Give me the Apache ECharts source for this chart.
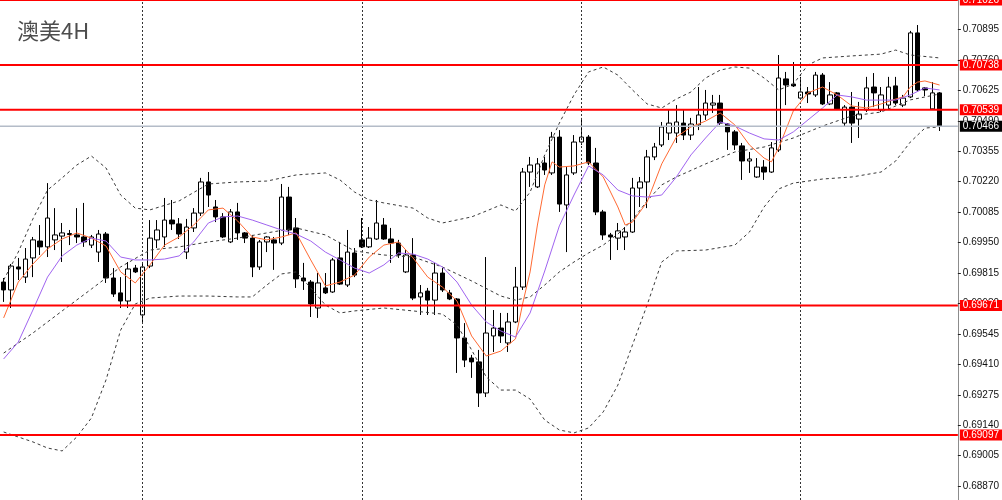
<!DOCTYPE html>
<html>
<head>
<meta charset="utf-8">
<script src="https://cdn.jsdelivr.net/npm/echarts@6/dist/echarts.min.js"></script>
<style>html,body{margin:0;padding:0;background:#fff}#c{width:1002px;height:500px}</style>
</head>
<body>
<div id="c"></div>
<script>
const chartTitle = '澳美4H';
const slotCount = 131;
const yMin = 0.688084;
const yMax = 0.71026;
const yTicks = [0.68870,0.69005,0.69140,0.69275,0.69410,0.69545,0.69680,0.69815,0.69950,0.70085,0.70220,0.70355,0.70490,0.70625,0.70760,0.70895];
const redLevels = [0.71026,0.70738,0.70539,0.69671,0.69097];
const lastPrice = 0.70466;
const separators = ['19','49','79','109'];

const opens = [0.69775,0.69740,0.69842,0.69797,0.69882,0.69957,0.69931,0.69962,0.69979,0.69990,0.69984,0.69975,0.69939,0.69908,0.69988,0.69793,0.69727,0.69691,0.69837,0.69629,
0.69846,0.69962,0.69975,0.70050,0.70033,0.69908,0.70015,0.70081,0.70219,0.70108,0.70064,0.69953,0.70086,0.69993,0.69970,0.69842,0.69953,0.69962,0.69948,0.70152,
0.70015,0.69793,0.69775,0.69660,0.69749,0.69731,0.69882,0.69762,0.69904,0.69962,0.69931,0.69966,0.70028,0.69966,0.69948,0.69820,0.69895,0.69709,0.69735,0.69695,
0.69815,0.69727,0.69700,0.69527,0.69438,0.69421,0.69283,0.69536,0.69571,0.69505,0.69598,0.69753,0.70263,0.70197,0.70303,0.70259,0.70418,0.70117,0.70259,0.70396,
0.70418,0.70303,0.70086,0.69984,0.69970,0.69975,0.69997,0.70192,0.70219,0.70330,0.70383,0.70436,0.70436,0.70480,0.70427,0.70472,0.70516,0.70560,0.70569,0.70476,
0.70441,0.70379,0.70312,0.70241,0.70285,0.70263,0.70361,0.70676,0.70653,0.70591,0.70618,0.70605,0.70693,0.70565,0.70614,0.70480,0.70551,0.70498,0.70538,0.70640,
0.70538,0.70560,0.70645,0.70560,0.70596,0.70880,0.70636,0.70543,0.70614];
const closes = [0.69740,0.69846,0.69833,0.69877,0.69962,0.69931,0.70059,0.69984,0.69993,0.69986,0.69975,0.69953,0.69975,0.69988,0.69793,0.69722,0.69691,0.69833,0.69820,0.69842,
0.69970,0.70006,0.70050,0.70033,0.69988,0.70019,0.70081,0.70219,0.70161,0.70064,0.69975,0.70086,0.69993,0.69970,0.69842,0.69953,0.69975,0.69948,0.70152,0.70006,
0.69789,0.69780,0.69678,0.69771,0.69727,0.69873,0.69766,0.69908,0.69806,0.69931,0.69970,0.70037,0.69966,0.69948,0.69895,0.69895,0.69704,0.69727,0.69695,0.69815,
0.69740,0.69700,0.69527,0.69429,0.69421,0.69283,0.69549,0.69571,0.69536,0.69598,0.69753,0.70263,0.70294,0.70299,0.70272,0.70418,0.70121,0.70250,0.70396,0.70418,
0.70303,0.70086,0.69984,0.69975,0.70002,0.69997,0.70192,0.70219,0.70330,0.70374,0.70463,0.70480,0.70485,0.70427,0.70476,0.70516,0.70569,0.70569,0.70480,0.70441,
0.70383,0.70312,0.70321,0.70285,0.70263,0.70370,0.70680,0.70649,0.70645,0.70618,0.70609,0.70693,0.70565,0.70605,0.70543,0.70551,0.70480,0.70520,0.70636,0.70614,
0.70605,0.70640,0.70569,0.70591,0.70880,0.70627,0.70627,0.70614,0.70466];
const lows = [0.69687,0.69660,0.69784,0.69771,0.69797,0.69895,0.69886,0.69917,0.69864,0.69939,0.69948,0.69931,0.69926,0.69864,0.69771,0.69709,0.69660,0.69660,0.69815,0.69598,
0.69837,0.69926,0.69931,0.70006,0.69966,0.69877,0.69997,0.70068,0.70108,0.70041,0.69970,0.69948,0.69962,0.69948,0.69797,0.69829,0.69908,0.69829,0.69939,0.69984,
0.69749,0.69740,0.69620,0.69616,0.69722,0.69727,0.69762,0.69753,0.69797,0.69926,0.69926,0.69962,0.69962,0.69860,0.69882,0.69815,0.69695,0.69629,0.69629,0.69629,
0.69731,0.69695,0.69372,0.69398,0.69350,0.69221,0.69265,0.69465,0.69505,0.69465,0.69593,0.69740,0.70197,0.70192,0.70250,0.70250,0.70086,0.69908,0.70250,0.70383,
0.70294,0.70072,0.69962,0.69873,0.69917,0.69917,0.69993,0.70108,0.70103,0.70316,0.70374,0.70405,0.70392,0.70405,0.70405,0.70449,0.70494,0.70525,0.70472,0.70361,
0.70361,0.70228,0.70259,0.70237,0.70228,0.70259,0.70352,0.70560,0.70640,0.70583,0.70569,0.70596,0.70560,0.70560,0.70538,0.70463,0.70392,0.70414,0.70529,0.70551,
0.70529,0.70538,0.70560,0.70551,0.70591,0.70618,0.70600,0.70538,0.70445];
const highs = [0.69793,0.69855,0.69882,0.69926,0.69975,0.70028,0.70214,0.70103,0.70037,0.70006,0.70103,0.70126,0.69984,0.70006,0.69997,0.69837,0.69797,0.69864,0.69851,0.69864,
0.70050,0.70050,0.70148,0.70139,0.70059,0.70055,0.70103,0.70237,0.70263,0.70139,0.70081,0.70099,0.70126,0.69997,0.69984,0.69962,0.69979,0.69975,0.70210,0.70197,
0.70059,0.69860,0.69784,0.69815,0.69815,0.69882,0.69953,0.70006,0.69926,0.70059,0.70019,0.70139,0.70059,0.70015,0.69962,0.69917,0.69970,0.69762,0.69749,0.69860,
0.69837,0.69740,0.69704,0.69593,0.69452,0.69474,0.69886,0.69651,0.69638,0.69638,0.69842,0.70281,0.70330,0.70325,0.70330,0.70441,0.70449,0.70285,0.70427,0.70503,
0.70427,0.70370,0.70095,0.69993,0.70037,0.70019,0.70237,0.70241,0.70361,0.70392,0.70485,0.70538,0.70560,0.70538,0.70503,0.70640,0.70627,0.70605,0.70605,0.70480,
0.70449,0.70392,0.70352,0.70325,0.70316,0.70396,0.70782,0.70707,0.70751,0.70685,0.70640,0.70707,0.70702,0.70662,0.70618,0.70560,0.70618,0.70574,0.70685,0.70702,
0.70640,0.70685,0.70685,0.70605,0.70889,0.70915,0.70640,0.70662,0.70618];

const upperBand = [[0,0.69784],[2,0.69908],[4,0.70055],[6,0.70183],[8,0.70237],[10,0.70294],[12,0.70334],[14,0.70281],[16,0.70161],[18,0.70103],[20,0.70095],[24,0.70135],[28,0.70210],[32,0.70219],[36,0.70223],[40,0.70250],[44,0.70259],[46,0.70228],[48,0.70174],[50,0.70139],[52,0.70126],[56,0.70103],[58,0.70059],[60,0.70037],[64,0.70064],[66,0.70090],[68,0.70117],[70,0.70090],[72,0.70174],[74,0.70339],[76,0.70480],[78,0.70605],[80,0.70707],[82,0.70729],[84,0.70693],[86,0.70627],[88,0.70565],[90,0.70547],[92,0.70587],[94,0.70618],[96,0.70680],[98,0.70715],[100,0.70729],[102,0.70724],[104,0.70680],[106,0.70627],[108,0.70653],[110,0.70738],[112,0.70769],[116,0.70778],[120,0.70786],[122,0.70804],[124,0.70782],[128,0.70769]];
const middleBand = [[0,0.69460],[4,0.69549],[8,0.69647],[12,0.69744],[16,0.69842],[20,0.69917],[24,0.69931],[28,0.69953],[32,0.69970],[36,0.69993],[40,0.70015],[44,0.69984],[48,0.69913],[52,0.69895],[56,0.69886],[60,0.69842],[64,0.69780],[68,0.69713],[70,0.69695],[72,0.69709],[74,0.69762],[76,0.69820],[78,0.69864],[80,0.69904],[82,0.69939],[84,0.69988],[86,0.70050],[88,0.70135],[90,0.70206],[92,0.70241],[96,0.70299],[100,0.70352],[104,0.70374],[108,0.70414],[112,0.70467],[116,0.70512],[120,0.70529],[124,0.70583],[128,0.70609]];
const lowerBand = [[0,0.69110],[4,0.69066],[6,0.69039],[8,0.69026],[10,0.69088],[12,0.69172],[14,0.69341],[16,0.69562],[18,0.69678],[20,0.69704],[24,0.69713],[28,0.69713],[32,0.69709],[34,0.69709],[36,0.69762],[38,0.69811],[40,0.69820],[42,0.69749],[44,0.69673],[46,0.69638],[48,0.69647],[52,0.69660],[56,0.69647],[60,0.69633],[62,0.69585],[64,0.69474],[66,0.69354],[68,0.69296],[70,0.69296],[72,0.69256],[74,0.69163],[76,0.69119],[78,0.69106],[80,0.69128],[82,0.69199],[84,0.69318],[86,0.69496],[88,0.69673],[90,0.69864],[92,0.69913],[96,0.69917],[100,0.69939],[102,0.69997],[104,0.70108],[106,0.70188],[108,0.70214],[112,0.70232],[116,0.70241],[120,0.70263],[122,0.70312],[124,0.70396],[126,0.70458],[128,0.70463]];
const fastMA = [[0,0.69616],[2,0.69775],[4,0.69855],[6,0.69922],[8,0.69966],[10,0.69993],[12,0.69970],[14,0.69935],[16,0.69820],[18,0.69771],[20,0.69851],[22,0.69939],[24,0.69975],[26,0.70028],[28,0.70095],[30,0.70103],[32,0.70046],[34,0.69975],[36,0.69962],[38,0.69975],[40,0.69993],[42,0.69873],[44,0.69758],[46,0.69775],[48,0.69806],[50,0.69886],[52,0.69939],[54,0.69953],[56,0.69882],[58,0.69797],[60,0.69753],[62,0.69691],[64,0.69536],[66,0.69447],[68,0.69469],[70,0.69523],[71,0.69682],[72,0.69820],[73,0.70028],[74,0.70206],[75,0.70308],[76,0.70285],[78,0.70290],[80,0.70308],[82,0.70241],[84,0.70108],[85,0.70028],[86,0.70041],[88,0.70130],[90,0.70299],[92,0.70418],[94,0.70463],[96,0.70489],[98,0.70525],[100,0.70472],[102,0.70383],[104,0.70325],[105,0.70308],[106,0.70370],[108,0.70534],[110,0.70614],[112,0.70640],[114,0.70605],[116,0.70556],[118,0.70547],[120,0.70565],[122,0.70587],[123,0.70596],[124,0.70640],[125,0.70662],[126,0.70667],[128,0.70649]];
const slowMA = [[0,0.69434],[2,0.69509],[4,0.69651],[6,0.69797],[8,0.69891],[10,0.69939],[12,0.69970],[14,0.69957],[16,0.69886],[18,0.69873],[20,0.69873],[22,0.69877],[24,0.69891],[26,0.69953],[28,0.70037],[30,0.70064],[32,0.70068],[34,0.70050],[36,0.70028],[38,0.70006],[40,0.69988],[42,0.69957],[44,0.69908],[46,0.69873],[48,0.69837],[50,0.69815],[52,0.69851],[54,0.69904],[56,0.69899],[58,0.69877],[60,0.69842],[62,0.69775],[64,0.69673],[66,0.69598],[68,0.69558],[70,0.69531],[72,0.69638],[74,0.69824],[76,0.70024],[78,0.70161],[80,0.70290],[82,0.70250],[84,0.70183],[86,0.70157],[88,0.70152],[90,0.70161],[92,0.70241],[94,0.70339],[96,0.70414],[98,0.70485],[100,0.70467],[102,0.70436],[104,0.70410],[106,0.70405],[108,0.70441],[110,0.70494],[112,0.70547],[114,0.70605],[116,0.70596],[118,0.70582],[120,0.70582],[122,0.70582],[124,0.70605],[126,0.70636],[128,0.70627]];

const slots = Array.from({length: slotCount}, (_, i) => String(i));
const candles = opens.map((o, i) => [o, closes[i], lows[i], highs[i]]);
const labelFont = '"Liberation Sans", Arial, sans-serif';

function levelSeries(v, bg, lineColor, width, z) {
  return {
    type: 'line', name: 'L' + v.toFixed(5), xAxisIndex: 1, yAxisIndex: 0,
    data: [[0, v], [1, v]], symbol: 'none', silent: true, z: z, clip: false,
    lineStyle: {color: lineColor, width: width},
    endLabel: {
      show: true, distance: 2, formatter: v.toFixed(5),
      color: '#fff', backgroundColor: bg, padding: [1, 4, 0, 3],
      fontSize: 10, fontFamily: labelFont
    }
  };
}
function bandSeries(name, data) {
  return {type: 'line', name: name, data: data, symbol: 'none', z: 4, silent: true,
    lineStyle: {color: '#3a3a3a', width: 1, type: [3, 3]}};
}

const chart = echarts.init(document.getElementById('c'));
chart.setOption({
  animation: false,
  backgroundColor: '#ffffff',
  title: {text: chartTitle, left: 12, top: 15,
    textStyle: {fontSize: 22, fontWeight: 'normal', color: '#4d4d4d', fontFamily: '"Noto Sans CJK SC", sans-serif'}},
  grid: {left: 0, right: 41, top: 0, bottom: 0},
  xAxis: [
    {type: 'category', data: slots, boundaryGap: true,
      axisLine: {show: false}, axisTick: {show: false}, axisLabel: {show: false}, splitLine: {show: false}},
    {type: 'value', min: 0, max: 1, show: false, splitLine: {show: false},
      axisLine: {show: false, onZero: false}, axisTick: {show: false}, axisLabel: {show: false}}
  ],
  yAxis: {type: 'value', position: 'right', min: yMin, max: yMax, scale: true,
    splitLine: {show: false},
    axisLine: {show: true, onZero: false, lineStyle: {color: '#8c8c8c', width: 1}},
    axisTick: {show: true, length: 3, customValues: yTicks, lineStyle: {color: '#222'}},
    axisLabel: {customValues: yTicks, formatter: v => v.toFixed(5), color: '#111', fontSize: 10, fontFamily: labelFont, margin: 5}},
  series: [
    {type: 'candlestick', name: 'AUDUSD', data: candles, barWidth: 5, z: 3,
      itemStyle: {color: '#ffffff', color0: '#000000', borderColor: '#000000', borderColor0: '#000000', borderWidth: 1},
      markLine: {symbol: ['none', 'none'], silent: true, label: {show: false},
        lineStyle: {color: '#333', width: 1, type: [2, 2]},
        data: separators.map(s => ({xAxis: s}))}},
    bandSeries('upper', upperBand),
    bandSeries('middle', middleBand),
    bandSeries('lower', lowerBand),
    {type: 'line', name: 'fast', data: fastMA, symbol: 'none', z: 5, silent: true,
      lineStyle: {color: '#ff6a33', width: 1}},
    {type: 'line', name: 'slow', data: slowMA, symbol: 'none', z: 5, silent: true,
      lineStyle: {color: '#a064f0', width: 1}},
    levelSeries(lastPrice, '#000000', '#b4bcc8', 1.5, 6)
  ].concat(redLevels.map(v => levelSeries(v, '#ff0000', '#ff0000', 2, 7)))
});
</script>
</body>
</html>
